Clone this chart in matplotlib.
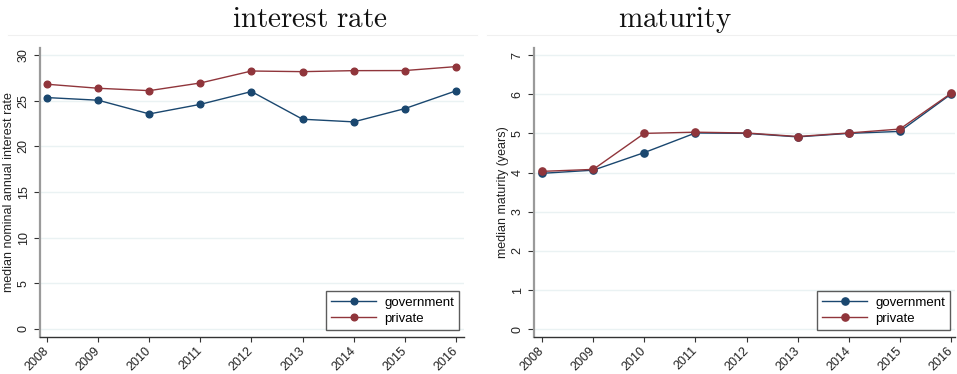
import matplotlib
matplotlib.use("Agg")
import matplotlib.pyplot as plt
from matplotlib.lines import Line2D

years = [2008, 2009, 2010, 2011, 2012, 2013, 2014, 2015, 2016]

rate_government = [25.34, 25.05, 23.55, 24.6, 26.0, 22.97, 22.68, 24.13, 26.07]
rate_private = [26.8, 26.36, 26.1, 26.94, 28.25, 28.18, 28.29, 28.3, 28.73]

maturity_government = [3.98, 4.06, 4.51, 5.01, 5.0, 4.91, 5.0, 5.05, 6.0]
maturity_private = [4.03, 4.08, 5.0, 5.03, 5.01, 4.92, 5.01, 5.11, 6.02]

rate_ticks = [0, 5, 10, 15, 20, 25, 30]
maturity_ticks = [0, 1, 2, 3, 4, 5, 6, 7]

series_names = ["government", "private"]
NAVY = "#1a476f"
MAROON = "#90353b"
GRID = "#eaf2f3"

plt.rcParams["font.family"] = ["Liberation Sans", "DejaVu Sans"]
plt.rcParams["mathtext.fontset"] = "cm"

W, H = 957, 374
fig = plt.figure(figsize=(W / 100, H / 100), dpi=100)
fig.patch.set_facecolor("white")


def px_axes(x0, x1, y0, y1):
    return fig.add_axes([x0 / W, 1 - y1 / H, (x1 - x0) / W, (y1 - y0) / H])


def style_panel(ax, ticks, ylim, xlim, ylabel, gov, priv, msize):
    ax.set_xlim(*xlim)
    ax.set_ylim(*ylim)
    for t in ticks:
        ax.axhline(t, color=GRID, lw=1.0, zorder=0)
    ax.plot(years, gov, color=NAVY, lw=1.0, marker="o", ms=msize,
            mfc=NAVY, mec=NAVY, zorder=3)
    ax.plot(years, priv, color=MAROON, lw=1.0, marker="o", ms=msize,
            mfc=MAROON, mec=MAROON, zorder=4)
    for s in ("top", "right"):
        ax.spines[s].set_visible(False)
    ax.spines["left"].set_color("#9a9a9a")
    ax.spines["left"].set_linewidth(1.6)
    ax.spines["bottom"].set_color("#333333")
    ax.spines["bottom"].set_linewidth(1.0)
    ax.set_yticks(ticks)
    ax.set_yticklabels([str(t) for t in ticks], rotation=90, va="center",
                       fontsize=9, color="#222222")
    ax.set_xticks(years)
    ax.set_xticklabels([str(y) for y in years], rotation=45, ha="right",
                       va="center", rotation_mode="anchor", fontsize=9,
                       color="#222222")
    ax.tick_params(axis="y", length=4, width=0.8, color="#333333", pad=3.5)
    ax.tick_params(axis="x", length=3.5, width=0.8, color="#333333", pad=5)
    ax.set_ylabel(ylabel, fontsize=9, color="#222222", labelpad=2)
    handles = [
        Line2D([], [], color=NAVY, lw=1.0, marker="o", ms=msize),
        Line2D([], [], color=MAROON, lw=1.0, marker="o", ms=msize),
    ]
    leg = ax.legend(handles, series_names, loc="lower right",
                    bbox_to_anchor=(0.995, 0.015), fontsize=9.5,
                    frameon=True, fancybox=False, handlelength=3.4,
                    handletextpad=0.6, borderpad=0.4, labelspacing=0.3,
                    borderaxespad=0.2)
    leg.get_frame().set_edgecolor("#333333")
    leg.get_frame().set_linewidth(1.0)


# left panel: interest rate
ax1 = px_axes(40, 464, 48, 337)
style_panel(ax1, rate_ticks,
            (-0.88, 30.77), (2007.86, 2016.16),
            "median nominal annual interest rate",
            rate_government, rate_private, 4.8)

# right panel: maturity
ax2 = px_axes(534, 955, 48, 337)
style_panel(ax2, maturity_ticks,
            (-0.2, 7.18), (2007.84, 2016.08),
            "median maturity (years)",
            maturity_government, maturity_private, 5.2)

# faint graph-region borders
fig.add_artist(Line2D([8 / W, 477 / W], [1 - 35 / H] * 2, color="#f0f0f0", lw=0.8))
fig.add_artist(Line2D([487 / W, 1.0], [1 - 35 / H] * 2, color="#f0f0f0", lw=0.8))

fig.text(310 / W, 1 - 27 / H, r"$\mathrm{interest\ rate}$", ha="center",
         va="baseline", fontsize=21, color="#111111")
fig.text(675 / W, 1 - 27 / H, r"$\mathrm{maturity}$", ha="center",
         va="baseline", fontsize=21, color="#111111")

fig.savefig("out.png", dpi=100, facecolor="white")
